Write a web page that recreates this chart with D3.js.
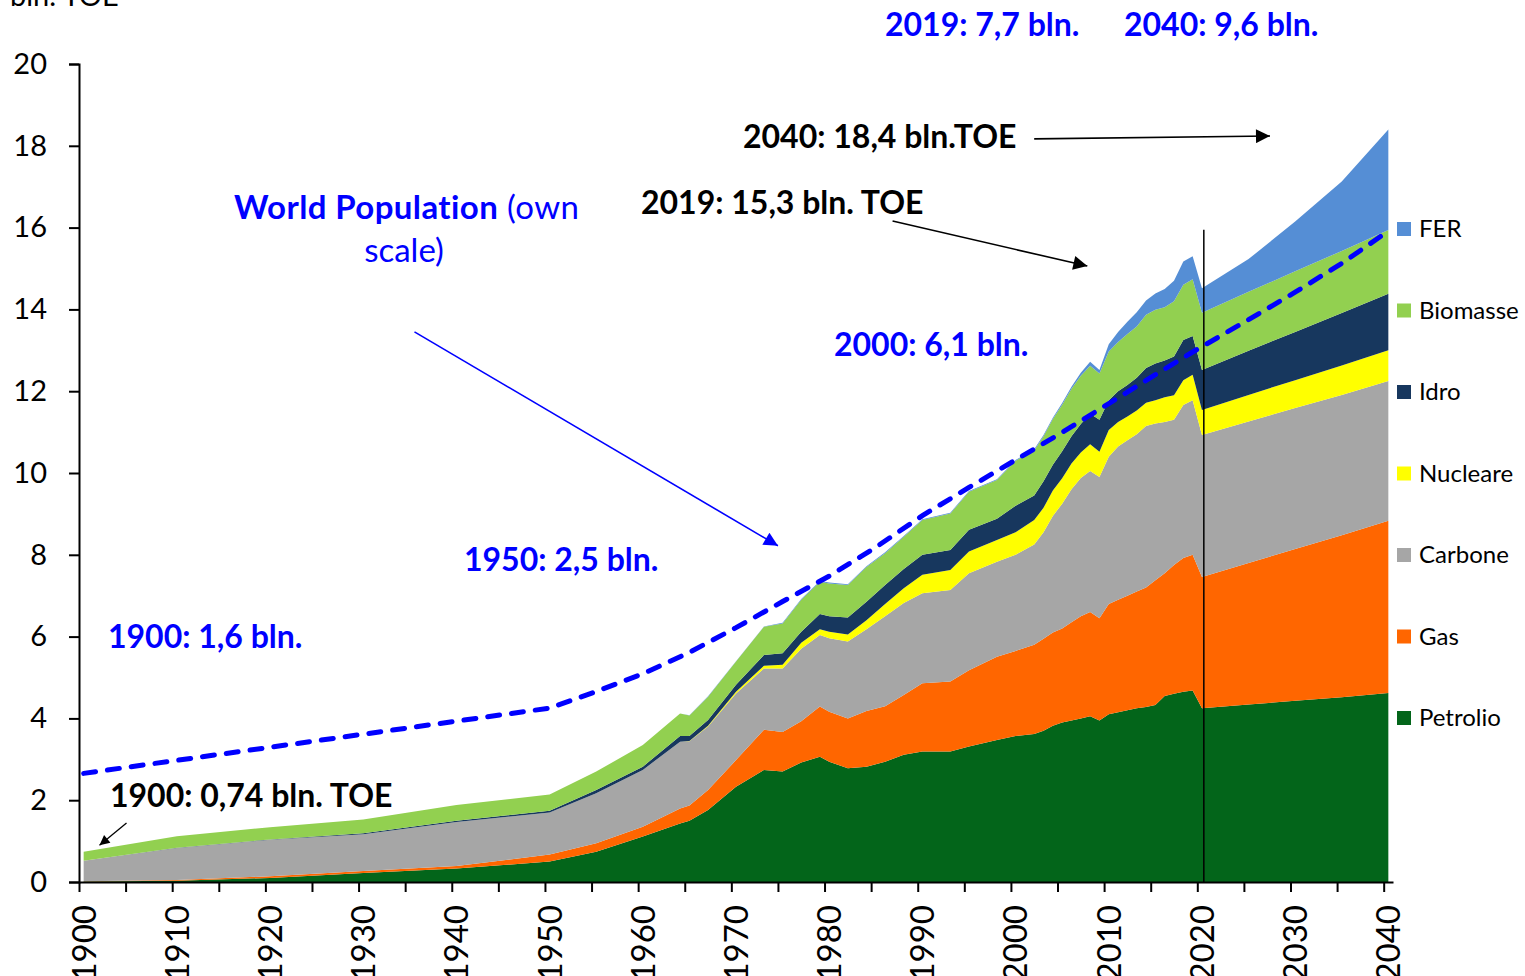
<!DOCTYPE html>
<html><head><meta charset="utf-8">
<script src="https://cdn.jsdelivr.net/npm/d3@7"></script>
<style>
html,body{margin:0;padding:0;background:#fff;overflow:hidden;}
svg{display:block;}
text{font-family:Lato,"Open Sans",sans-serif;}
</style></head><body>
<svg id="chart" width="1525" height="976"></svg>
<script>
// ---------- DATA (bln. TOE) ----------
const years = [1900,1910,1920,1930,1940,1950,1955,1960,1964,1965,1967,1970,1973,1975,1977,1979,1980,1982,1984,1986,1988,1990,1993,1995,1998,2000,2002,2003,2004,2005,2006,2007,2008,2009,2010,2011,2012,2013,2014,2015,2016,2017,2018,2019,2020,2025,2030,2035,2040];
const petrolio = [0.01,0.03,0.10,0.22,0.33,0.50,0.74,1.11,1.43,1.50,1.76,2.33,2.74,2.70,2.92,3.06,2.94,2.78,2.82,2.94,3.11,3.19,3.19,3.31,3.47,3.57,3.62,3.70,3.82,3.90,3.95,4.00,4.05,3.95,4.10,4.15,4.20,4.25,4.28,4.33,4.55,4.60,4.65,4.68,4.25,4.34,4.43,4.52,4.62];
const gas      = [0.01,0.02,0.04,0.05,0.06,0.17,0.21,0.24,0.37,0.37,0.49,0.65,0.98,0.97,1.01,1.23,1.22,1.22,1.36,1.36,1.46,1.67,1.71,1.87,2.04,2.08,2.18,2.25,2.28,2.30,2.40,2.50,2.55,2.50,2.70,2.75,2.80,2.85,2.92,3.05,3.00,3.15,3.27,3.32,3.21,3.46,3.71,3.96,4.21];
const carbone  = [0.50,0.78,0.89,0.90,1.08,1.03,1.22,1.39,1.63,1.57,1.55,1.63,1.50,1.55,1.77,1.75,1.80,1.88,2.00,2.20,2.25,2.20,2.24,2.37,2.32,2.35,2.45,2.60,2.85,3.05,3.25,3.38,3.45,3.45,3.60,3.75,3.80,3.85,3.95,3.83,3.70,3.55,3.74,3.78,3.47,3.46,3.45,3.43,3.42];
const nucleare = [0,0,0,0,0,0,0,0,0,0.01,0.02,0.04,0.07,0.09,0.15,0.14,0.16,0.17,0.22,0.30,0.36,0.45,0.49,0.53,0.53,0.55,0.60,0.60,0.62,0.62,0.63,0.62,0.65,0.62,0.65,0.60,0.58,0.58,0.57,0.57,0.60,0.60,0.61,0.62,0.61,0.65,0.68,0.72,0.75];
const idro     = [0,0.01,0.01,0.02,0.03,0.04,0.08,0.08,0.14,0.12,0.14,0.17,0.26,0.28,0.27,0.37,0.38,0.42,0.45,0.46,0.47,0.49,0.49,0.53,0.52,0.65,0.60,0.65,0.63,0.66,0.67,0.70,0.75,0.78,0.73,0.75,0.77,0.80,0.85,0.90,0.90,0.95,0.98,0.95,0.98,1.08,1.18,1.28,1.38];
const biomasse = [0.22,0.28,0.30,0.34,0.38,0.40,0.45,0.53,0.55,0.50,0.57,0.57,0.69,0.73,0.78,0.79,0.80,0.79,0.85,0.78,0.79,0.85,0.89,0.93,0.95,1.10,1.10,1.10,1.12,1.14,1.16,1.18,1.17,1.13,1.19,1.20,1.25,1.25,1.30,1.31,1.30,1.35,1.35,1.39,1.40,1.44,1.48,1.52,1.56];
const fer      = [0,0,0,0,0,0,0,0,0,0.01,0.01,0.01,0.01,0.02,0.02,0.02,0.02,0.02,0.02,0.02,0.02,0.02,0.02,0.02,0.02,0.02,0.03,0.03,0.03,0.04,0.05,0.07,0.10,0.09,0.18,0.25,0.30,0.35,0.35,0.40,0.45,0.50,0.57,0.56,0.60,0.80,1.22,1.70,2.46];

const seriesNames  = ["Petrolio","Gas","Carbone","Nucleare","Idro","Biomasse","FER"];
const seriesValues = [petrolio, gas, carbone, nucleare, idro, biomasse, fer];
const seriesColors = ["#03651A","#FF6600","#A6A6A6","#FFFF00","#17375E","#92D050","#558ED5"];

// World population (bln., own scale)
const popYears   = [1900,1950,1955,1960,1965,1970,1975,1980,1985,1990,1995,2000,2005,2010,2015,2019,2025,2030,2035,2040];
const population = [1.58,2.53,2.77,3.03,3.34,3.70,4.08,4.45,4.87,5.33,5.74,6.14,6.54,6.96,7.38,7.71,8.18,8.58,9.00,9.47];

const yTickValues  = [0,2,4,6,8,10,12,14,16,18,20];
const xTickLabels  = [1900,1910,1920,1930,1940,1950,1960,1970,1980,1990,2000,2010,2020,2030,2040];
const xTickMarks   = d3.range(1899.5, 2040, 5);
const forecastYear = 2020.2;

// ---------- SCALES ----------
const svg = d3.select("#chart");
const x = d3.scaleLinear().domain([1899.5, 2040.5]).range([79, 1393]);
const y = d3.scaleLinear().domain([0, 20]).range([882, 64]);
const yPop = d3.scaleLinear().domain([0, 11.9]).range([882, 64]);

// ---------- STACKED AREAS ----------
const rows = years.map((yr, i) => {
  const r = {year: yr};
  seriesNames.forEach((n, k) => r[n] = seriesValues[k][i]);
  return r;
});
const stacked = d3.stack().keys(seriesNames)(rows);
const area = d3.area()
  .x(d => x(d.data.year))
  .y0(d => y(d[0]))
  .y1(d => y(d[1]));
svg.append("g").selectAll("path").data(stacked).join("path")
  .attr("d", area)
  .attr("fill", (d, i) => seriesColors[i]);

// forecast divider
svg.append("line")
  .attr("x1", x(forecastYear)).attr("x2", x(forecastYear))
  .attr("y1", y(15.95)).attr("y2", y(0))
  .attr("stroke", "#000").attr("stroke-width", 1.5);

// population dashed line
const popLine = d3.line().x((d, i) => x(popYears[i])).y(d => yPop(d));
svg.append("path").datum(population)
  .attr("d", popLine)
  .attr("fill", "none").attr("stroke", "#0000FF")
  .attr("stroke-width", 5).attr("stroke-dasharray", "12,12")
  .attr("stroke-linecap", "round");

// ---------- AXES ----------
const yAxis = d3.axisLeft(y).tickValues(yTickValues).tickSize(10).tickPadding(22).tickFormat(d3.format("d"));
const gy = svg.append("g").attr("transform", `translate(${x(1899.5)},0)`).call(yAxis);
gy.select(".domain").attr("stroke", "#000").attr("stroke-width", 2);
gy.selectAll(".tick line").attr("stroke", "#000").attr("stroke-width", 2);
gy.selectAll(".tick text").attr("font-family", "Lato, sans-serif").attr("font-size", 29).attr("fill", "#000");

const xAxis = d3.axisBottom(x).tickValues(xTickMarks).tickSize(10).tickFormat("").tickSizeOuter(0);
const gx = svg.append("g").attr("transform", `translate(0,${y(0)})`).call(xAxis);
gx.select(".domain").attr("stroke", "#000").attr("stroke-width", 2);
gx.selectAll(".tick line").attr("stroke", "#000").attr("stroke-width", 2);

svg.append("g").selectAll("text").data(xTickLabels).join("text")
  .attr("transform", d => `translate(${x(d)},905) rotate(-90)`)
  .attr("text-anchor", "end").attr("dy", "0.36em")
  .attr("font-family", "'Liberation Sans', Arial, sans-serif").attr("font-size", 33)
  .attr("fill", "#000").text(d => d);

svg.append("text").attr("x", 10).attr("y", 6).attr("font-size", 29).attr("fill", "#000").text("bln. TOE");

// ---------- LEGEND ----------
const legendItems = seriesNames.slice().reverse();
const legendColors = seriesColors.slice().reverse();
const lg = svg.append("g").selectAll("g").data(legendItems).join("g")
  .attr("transform", (d, i) => `translate(1397,${229 + i * 81.5})`);
lg.append("rect").attr("x", 0).attr("y", -7).attr("width", 14).attr("height", 14)
  .attr("fill", (d, i) => legendColors[i]);
lg.append("text").attr("x", 22).attr("dy", "0.35em").attr("font-size", 24).attr("fill", "#000").text(d => d);

// ---------- ANNOTATIONS ----------
const defs = svg.append("defs");
function marker(id, color, w, h) {
  defs.append("marker").attr("id", id).attr("viewBox", "0 0 10 10")
    .attr("refX", 10).attr("refY", 5).attr("markerUnits", "userSpaceOnUse")
    .attr("markerWidth", w).attr("markerHeight", h).attr("orient", "auto")
    .append("path").attr("d", "M0,0 L10,5 L0,10 Z").attr("fill", color);
}
marker("arrBlue", "#0000FF", 20, 14);
marker("arrBlack", "#000", 20, 14);
marker("arrBlackS", "#000", 13, 10);

function arrow(y1, v1, y2, v2, color, w, m) {
  svg.append("line")
    .attr("x1", x(y1)).attr("y1", y(v1)).attr("x2", x(y2)).attr("y2", y(v2))
    .attr("stroke", color).attr("stroke-width", w).attr("marker-end", `url(#${m})`);
}
arrow(1935.5, 13.45, 1974.5, 8.22, "#0000FF", 1.6, "arrBlue");
arrow(1986.8, 16.16, 2007.7, 15.06, "#000", 1.6, "arrBlack");
arrow(2002.0, 18.17, 2027.3, 18.24, "#000", 1.6, "arrBlack");
arrow(1904.6, 1.44, 1901.7, 0.9, "#000", 1.3, "arrBlackS");

function label(px, py, txt, color, anchor) {
  return svg.append("text").attr("x", px).attr("y", py)
    .attr("font-size", 32).attr("font-weight", "bold").attr("fill", color)
    .attr("text-anchor", anchor || "start").text(txt);
}
label(885, 36, "2019: 7,7 bln.", "#0000FF");
label(1124, 36, "2040: 9,6 bln.", "#0000FF");
label(743, 148, "2040: 18,4 bln.TOE", "#000");
label(641, 214, "2019: 15,3 bln. TOE", "#000");
label(834, 356, "2000: 6,1 bln.", "#0000FF");
label(464, 571, "1950: 2,5 bln.", "#0000FF");
label(108, 648, "1900: 1,6 bln.", "#0000FF");
label(110, 807, "1900: 0,74 bln. TOE", "#000");

const wp = svg.append("text").attr("x", 234).attr("y", 219).attr("font-size", 33)
  .attr("letter-spacing", 0.4).attr("fill", "#0000FF");
wp.append("tspan").attr("font-weight", "bold").text("World Population");
wp.append("tspan").attr("font-weight", "normal").text(" (own");
svg.append("text").attr("x", 404).attr("y", 262).attr("font-size", 33).attr("fill", "#0000FF")
  .attr("text-anchor", "middle").text("scale)");
</script>
</body></html>
